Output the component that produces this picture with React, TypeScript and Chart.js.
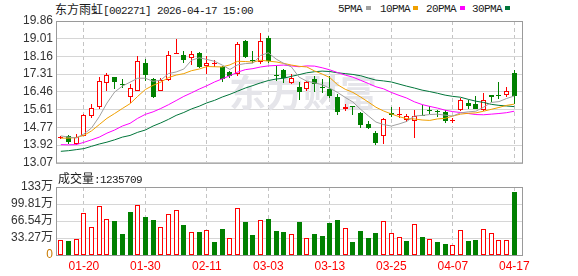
import React, { useEffect, useRef } from 'react';
import { Chart, registerables } from 'chart.js';

Chart.register(...registerables);

// ---------- data ----------
const stockName = '东方雨虹';
const stockCode = '[002271]';
const stamp = '2026-04-17 15:00';
const volLabel = '成交量';
const lastVolume = '1235709';
const watermarkText = '东方财富';

const dates = ['01-15','01-16','01-19','01-20','01-21','01-22','01-23','01-26','01-27','01-28','01-29','01-30','02-02','02-03','02-04','02-05','02-06','02-09','02-10','02-11','02-12','02-13','02-24','02-25','02-26','02-27','03-02','03-03','03-04','03-05','03-06','03-09','03-10','03-11','03-12','03-13','03-16','03-17','03-18','03-19','03-20','03-23','03-24','03-25','03-26','03-27','03-30','03-31','04-01','04-02','04-03','04-07','04-08','04-09','04-10','04-13','04-14','04-15','04-16','04-17'];
const axisDates = ['01-20','01-30','02-11','03-03','03-13','03-25','04-07','04-17'];

const opens = [14.28,14.33,13.98,14.36,15.31,15.72,16.90,17.20,16.82,16.22,16.53,17.83,17.09,16.53,17.04,18.28,18.24,18.08,18.31,17.72,17.82,17.67,17.40,17.32,18.90,18.00,17.88,19.06,17.29,17.53,16.90,16.69,16.58,17.09,16.71,16.61,16.22,15.64,15.79,15.46,14.91,14.49,14.33,15.45,15.35,15.12,15.08,15.36,15.60,15.55,15.51,15.05,15.59,15.95,15.87,15.59,16.30,16.31,16.33,17.35];
const highs = [14.36,14.41,14.46,15.40,15.87,17.20,17.35,17.20,17.09,16.85,18.19,18.03,17.12,17.12,18.42,19.02,18.42,18.42,18.38,18.19,17.98,17.72,17.45,18.87,18.93,18.42,19.29,19.14,17.72,17.56,17.32,16.93,17.01,17.24,17.09,17.24,16.38,15.87,15.81,15.51,15.07,14.57,15.23,15.72,15.75,15.43,15.59,15.83,15.78,15.62,15.59,15.20,16.19,16.06,16.25,16.43,16.33,16.93,16.69,17.51];
const lows = [14.22,13.99,13.94,14.33,15.20,15.67,16.53,16.61,16.66,15.94,16.50,17.01,16.17,16.49,17.01,18.27,17.83,17.76,17.62,17.32,17.68,16.96,17.12,17.24,18.11,17.87,17.79,17.87,17.01,16.90,16.82,16.06,16.53,16.46,16.41,16.17,15.35,15.54,15.38,14.72,14.69,13.94,13.97,15.27,15.23,15.04,14.25,15.29,15.43,15.27,14.96,14.96,15.54,15.67,15.64,15.54,15.98,16.14,16.22,15.90];
const closes = [14.31,14.06,14.30,15.35,15.70,17.01,17.29,16.93,16.78,16.65,17.95,17.27,16.22,17.04,18.24,18.33,17.98,18.30,17.64,17.87,17.85,17.09,17.24,18.77,18.16,17.96,18.90,17.93,17.23,17.12,17.13,16.46,16.96,16.85,16.66,16.27,15.48,15.75,15.73,14.88,14.72,14.01,15.16,15.38,15.40,15.31,15.33,15.31,15.56,15.51,15.08,15.10,16.06,15.78,15.67,16.06,16.22,16.27,16.53,16.27];

// volume in 万 shares, and its colour (1 = up day, 0 = down day)
const volumes = [29.3,27.4,31.3,81.5,55.4,95.8,69.8,67.2,41.1,84.1,97.1,74.3,68.5,54.1,79.5,87.4,58.7,44.3,45.0,48.9,25.4,50.9,32.6,91.3,64.5,39.1,68.5,70.4,47.6,45.0,40.4,64.5,32.6,41.1,37.2,62.6,68.5,52.2,25.4,46.9,33.3,43.0,66.5,42.4,34.6,27.4,60.0,35.2,30.6,25.4,21.5,18.9,48.9,27.4,29.3,50.9,42.4,29.3,29.3,123.57];
const volUp = [1,0,1,1,1,1,1,0,0,0, 1,0,0,1,1,1,0,1,0,1, 0,0,1,1,0,0,1,0,0,0, 1,0,1,0,0,0,0,1,0,0, 0,0,1,1,1,0,1,0,1,0, 0,1,1,0,0,1,1,1,1,0];

const ma5 = [14.36,14.30,14.26,14.45,14.74,15.28,15.93,16.46,16.74,16.93,17.12,17.12,16.97,17.03,17.34,17.42,17.56,17.98,18.10,18.02,17.93,17.75,17.54,17.76,17.82,17.84,18.21,18.34,18.04,17.83,17.66,17.17,16.98,16.90,16.81,16.64,16.44,16.20,15.98,15.63,15.32,15.02,14.90,14.83,14.93,15.05,15.31,15.34,15.38,15.40,15.35,15.31,15.46,15.51,15.54,15.73,15.96,16.00,16.15,16.27];
const ma10 = [14.25,14.25,14.28,14.38,14.60,14.90,15.20,15.43,15.67,15.90,16.25,16.58,16.78,16.93,17.15,17.27,17.34,17.48,17.56,17.68,17.67,17.66,17.76,17.93,17.92,17.89,17.98,17.94,17.90,17.83,17.75,17.69,17.66,17.47,17.32,17.15,16.81,16.59,16.44,16.22,15.98,15.73,15.55,15.41,15.28,15.18,15.17,15.12,15.10,15.17,15.20,15.31,15.40,15.44,15.46,15.54,15.63,15.72,15.82,15.88];
const ma20 = [13.94,13.93,13.94,14.05,14.17,14.30,14.49,14.64,14.83,14.96,15.20,15.39,15.51,15.67,15.85,16.05,16.25,16.42,16.60,16.76,16.94,17.09,17.24,17.41,17.53,17.58,17.66,17.71,17.73,17.75,17.71,17.67,17.71,17.70,17.62,17.52,17.39,17.27,17.17,17.02,16.87,16.71,16.61,16.44,16.30,16.17,15.99,15.86,15.77,15.69,15.59,15.52,15.48,15.43,15.38,15.37,15.40,15.43,15.47,15.54];
const ma30 = [13.62,13.65,13.70,13.75,13.86,13.97,14.06,14.17,14.30,14.38,14.53,14.64,14.83,14.98,15.15,15.34,15.48,15.65,15.78,15.94,16.06,16.22,16.35,16.50,16.65,16.77,16.90,17.01,17.08,17.12,17.21,17.29,17.38,17.43,17.46,17.44,17.38,17.34,17.30,17.24,17.13,17.03,16.99,16.94,16.84,16.74,16.65,16.55,16.48,16.40,16.31,16.25,16.21,16.11,16.02,15.96,15.87,15.82,15.79,15.76];

const maNames = ['5PMA', '10PMA', '20PMA', '30PMA'];
const priceTicks = ['13.07','13.92','14.77','15.61','16.46','17.31','18.16','19.01','19.86'];
const priceMin = 13.07;
const priceMax = 19.86;
const volTicks = ['0','33.27万','66.54万','99.81万','133万'];
const volMax = 133.08;

// ---------- styling ----------
const RED = '#ff0000';
const GREEN = '#008000';
const MA_COLORS = ['#a0a0a0', '#f0a000', '#ff00ff', '#00753a'];
const GRID = '#d6d6d6';
const VGRID = '#c4c4c4';
const FRAME = '#9a9a9a';
const SANS = '"Liberation Sans", Arial, "Noto Sans CJK SC", sans-serif';
const MONO = '"Liberation Mono", "DejaVu Sans Mono", monospace';
const CJK = '"Noto Sans CJK SC", sans-serif';

const tickIdx = axisDates.map((d) => dates.indexOf(d));

const framePlugin = {
  id: 'frame',
  afterDraw(chart: any) {
    const { ctx, chartArea: a } = chart;
    ctx.save();
    ctx.strokeStyle = FRAME;
    ctx.lineWidth = 1;
    ctx.strokeRect(a.left - 0.5, a.top + 0.5, a.right - a.left + 1, a.bottom - a.top);
    ctx.restore();
  },
};

// snap the library-computed bar rectangles to whole pixels so thin bars stay crisp
const snapPlugin = {
  id: 'snap',
  beforeDatasetsDraw(chart: any) {
    chart.data.datasets.forEach((_: any, di: number) => {
      const meta = chart.getDatasetMeta(di);
      if (meta.type !== 'bar') return;
      meta.data.forEach((el: any) => {
        el.x = Math.floor(el.x) + 0.5;
        el.y = Math.round(el.y);
        el.base = Math.round(el.base);
        if (el.y === el.base) el.y = el.base - 1;
      });
    });
  },
};

const watermarkPlugin = {
  id: 'wm',
  beforeDatasetsDraw(chart: any) {
    const { ctx } = chart;
    ctx.save();
    ctx.fillStyle = '#e5e5ea';
    ctx.font = 'bold 37px "Noto Sans CJK SC"';
    ctx.textBaseline = 'middle';
    ctx.fillText(watermarkText, 229, 93);
    ctx.restore();
  },
};

const xScale = (showLabels: boolean, height: number) => ({
  type: 'linear',
  min: -0.5,
  max: 60,
  offset: false,
  ticks: {
    display: showLabels,
    autoSkip: false,
    maxRotation: 0,
    padding: 4,
    color: RED,
    font: { family: SANS, size: 12 },
    callback: (v: number) => dates[Math.round(v)] ?? '',
  },
  grid: { color: VGRID, drawTicks: false, offset: false },
  border: { display: false, dash: [4, 3] },
  afterBuildTicks: (s: any) => {
    s.ticks = tickIdx.map((v) => ({ value: v }));
  },
  afterFit: (s: any) => {
    s.height = height;
  },
});

export default function App() {
  const mainRef = useRef<HTMLCanvasElement>(null);
  const volRef = useRef<HTMLCanvasElement>(null);

  useEffect(() => {
    const candleUp = closes.map((c, i) => c >= opens[i]);

    const main = new Chart(mainRef.current as HTMLCanvasElement, {
      type: 'bar',
      data: {
        datasets: [
          ...[ma5, ma10, ma20, ma30].map((arr, k) => ({
            type: 'line' as const,
            label: maNames[k],
            data: arr.map((v, i) => ({ x: i, y: v })),
            borderColor: MA_COLORS[k],
            borderWidth: 1,
            pointRadius: 0,
            tension: 0,
            order: 0,
          })),
          {
            type: 'bar' as const,
            label: 'body',
            data: opens.map((o, i) => ({ x: i, y: [o, closes[i]] })),
            backgroundColor: candleUp.map((u) => (u ? '#ffffff' : GREEN)),
            borderColor: candleUp.map((u) => (u ? RED : GREEN)),
            borderWidth: 1,
            borderSkipped: false,
            barThickness: 5,
            minBarLength: 1,
            inflateAmount: 0,
            grouped: false,
            order: 1,
          },
          {
            type: 'bar' as const,
            label: 'wick',
            data: lows.map((l, i) => ({ x: i, y: [l, highs[i]] })),
            backgroundColor: candleUp.map((u) => (u ? RED : GREEN)),
            borderWidth: 0,
            barThickness: 1,
            inflateAmount: 0,
            grouped: false,
            order: 2,
          },
        ],
      } as any,
      options: {
        responsive: false,
        animation: false,
        devicePixelRatio: 1,
        layout: { padding: { top: 21, right: 56, bottom: 9, left: 0 } },
        plugins: { legend: { display: false }, tooltip: { enabled: false } },
        scales: {
          x: xScale(false, 0),
          y: {
            min: priceMin,
            max: priceMax,
            beginAtZero: false,
            ticks: {
              autoSkip: false,
              padding: 4,
              color: '#333333',
              font: { family: SANS, size: 12 },
              callback: (_v: any, idx: number) => priceTicks[idx],
            },
            grid: { color: GRID, drawTicks: false },
            border: { display: false },
            afterBuildTicks: (s: any) => {
              s.ticks = priceTicks.map((_, k) => ({ value: priceMin + (k * (priceMax - priceMin)) / (priceTicks.length - 1) }));
            },
            afterFit: (s: any) => {
              s.width = 57;
            },
          },
        } as any,
      },
      plugins: [watermarkPlugin, snapPlugin, framePlugin],
    });

    const vol = new Chart(volRef.current as HTMLCanvasElement, {
      type: 'bar',
      data: {
        datasets: [
          {
            label: 'volume',
            data: volumes.map((v, i) => ({ x: i, y: v })),
            backgroundColor: volUp.map((u) => (u ? '#ffffff' : GREEN)),
            borderColor: volUp.map((u) => (u ? RED : GREEN)),
            borderWidth: 1,
            borderSkipped: false,
            barThickness: 5,
            inflateAmount: 0,
            grouped: false,
          },
        ],
      } as any,
      options: {
        responsive: false,
        animation: false,
        devicePixelRatio: 1,
        layout: { padding: { top: 19, right: 56, bottom: 0, left: 0 } },
        plugins: { legend: { display: false }, tooltip: { enabled: false } },
        scales: {
          x: xScale(true, 21),
          y: {
            min: 0,
            max: volMax,
            ticks: {
              autoSkip: false,
              padding: 4,
              color: (c: any) => (c.index === 0 ? '#c87a00' : '#333333'),
              font: { family: SANS, size: 12 },
              callback: (_v: any, idx: number) => volTicks[idx],
            },
            grid: { color: GRID, drawTicks: false },
            border: { display: false },
            afterBuildTicks: (s: any) => {
              s.ticks = volTicks.map((_, k) => ({ value: (k * volMax) / (volTicks.length - 1) }));
            },
            afterFit: (s: any) => {
              s.width = 57;
            },
          },
        } as any,
      },
      plugins: [snapPlugin, framePlugin],
    });

    return () => {
      main.destroy();
      vol.destroy();
    };
  }, []);

  const legendText = [338, 380, 426, 472];
  const legendBox = [366, 413, 460, 505];

  return (
    <div style={{ position: 'absolute', left: 0, top: 0, width: 578, height: 276, background: '#ffffff', overflow: 'hidden' }}>
      <div style={{ position: 'absolute', left: 55, top: 2, height: 14, lineHeight: '14px', whiteSpace: 'nowrap', color: '#1a1a1a' }}>
        <span style={{ fontFamily: CJK, fontSize: 12 }}>{stockName}</span>
        <span style={{ fontFamily: MONO, fontSize: 11, letterSpacing: '-0.6px' }}>{stockCode + ' ' + stamp}</span>
      </div>
      {maNames.map((n, k) => (
        <React.Fragment key={n}>
          <div style={{ position: 'absolute', left: legendText[k], top: 2, height: 14, lineHeight: '14px', fontFamily: MONO, fontSize: 11, letterSpacing: '-0.6px', color: '#1a1a1a', whiteSpace: 'nowrap' }}>{n}</div>
          <div style={{ position: 'absolute', left: legendBox[k], top: 6, width: 5, height: 4, background: MA_COLORS[k] }} />
        </React.Fragment>
      ))}
      <canvas ref={mainRef} width={578} height={174} style={{ position: 'absolute', left: 0, top: 0, width: 578, height: 174 }} />
      <div style={{ position: 'absolute', left: 58, top: 171, height: 14, lineHeight: '14px', whiteSpace: 'nowrap', color: '#1a1a1a' }}>
        <span style={{ fontFamily: CJK, fontSize: 12 }}>{volLabel}</span>
        <span style={{ fontFamily: MONO, fontSize: 11, letterSpacing: '-0.6px' }}>{':' + lastVolume}</span>
      </div>
      <canvas ref={volRef} width={578} height={108} style={{ position: 'absolute', left: 0, top: 168, width: 578, height: 108 }} />
    </div>
  );
}
